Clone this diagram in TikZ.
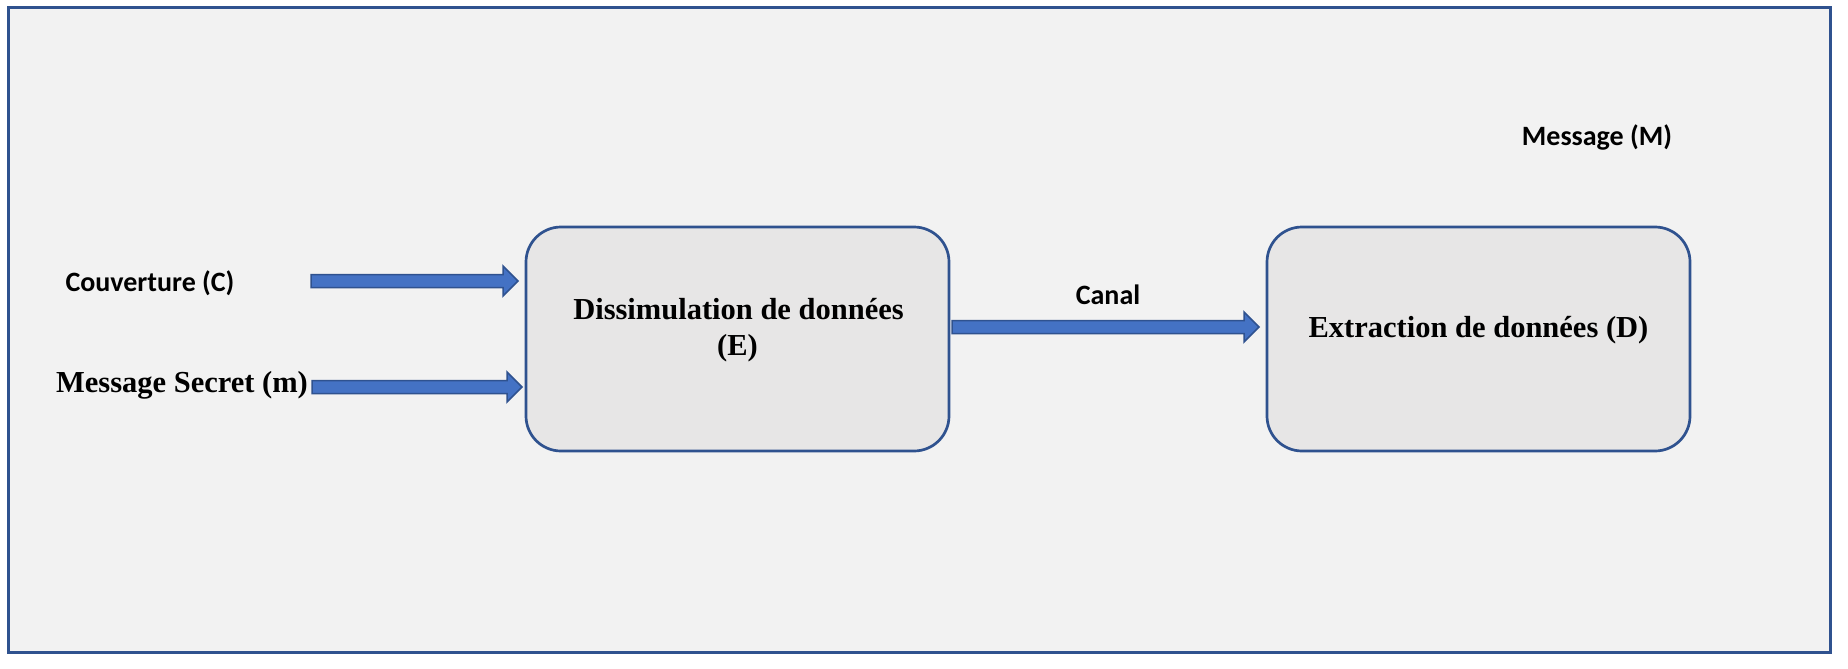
\documentclass[tikz,border=0pt]{standalone}
\usepackage{fontspec}
\setmainfont{Liberation Serif}
\newfontfamily\calfont{Carlito}
\usetikzlibrary{calc}
\definecolor{frameblue}{HTML}{2F528F}
\definecolor{arrowblue}{HTML}{4472C4}
\definecolor{bggray}{HTML}{F2F2F2}
\definecolor{boxgray}{HTML}{E7E6E6}
\tikzset{
  procbox/.style={draw=frameblue, line width=2.7pt, fill=boxgray, rounded corners=35pt,
    minimum width=423pt, minimum height=224pt, inner sep=0pt, outer sep=0pt},
  serlabel/.style={font=\fontsize{30.5}{36}\selectfont\bfseries, inner sep=0pt, anchor=base},
  callabel/.style={font=\calfont\fontsize{28}{32}\selectfont\bfseries, inner sep=0pt, anchor=base},
  arrowst/.style={fill=arrowblue, draw=frameblue, line width=1.5pt, line join=miter}
}
\newcommand{\fatarrow}[2]{%
  \filldraw[arrowst] ($(#1)+(0,6.5)$) -- ($(#2)+(-15,6.5)$) -- ($(#2)+(-15,15)$) -- (#2)
    -- ($(#2)+(-15,-15)$) -- ($(#2)+(-15,-6.5)$) -- ($(#1)+(0,-6.5)$) -- cycle;}
\begin{document}
\begin{tikzpicture}[x=1pt,y=-1pt]
\useasboundingbox (0,0) rectangle (1848,669);
\fill[white] (0,0) rectangle (1848,669);
\draw[frameblue, line width=3pt, fill=bggray] (8.5,7.5) rectangle (1830.5,652);

\node[procbox] (E) at (737.5,339) {};
\node[procbox] (D) at (1478.5,339) {};

\node[serlabel] (Et1) at (738.5,319) {Dissimulation de donn\'ees};
\node[serlabel] (Et2) at (737.5,355) {(E)};
\node[serlabel] (Dt) at (1478.5,337) {Extraction de donn\'ees (D)};

\node[callabel] (cov) at (150,291) {Couverture (C)};
\node[serlabel] (msg) at (182,392) {Message Secret (m)};
\node[callabel] (canal) at (1108,304) {Canal};
\node[callabel] (bigM) at (1597,145) {Message (M)};

\coordinate (c1s) at (311,281);
\coordinate (c1e) at ([xshift=-8pt]E.west |- c1s);
\coordinate (c2s) at (312,387);
\coordinate (c2e) at ([xshift=-4pt]E.west |- c2s);
\coordinate (c3s) at ([xshift=3pt]E.east |- 0,327);
\coordinate (c3e) at ([xshift=-8pt]D.west |- c3s);

\fatarrow{c1s}{c1e}
\fatarrow{c2s}{c2e}
\fatarrow{c3s}{c3e}
\end{tikzpicture}
\end{document}
